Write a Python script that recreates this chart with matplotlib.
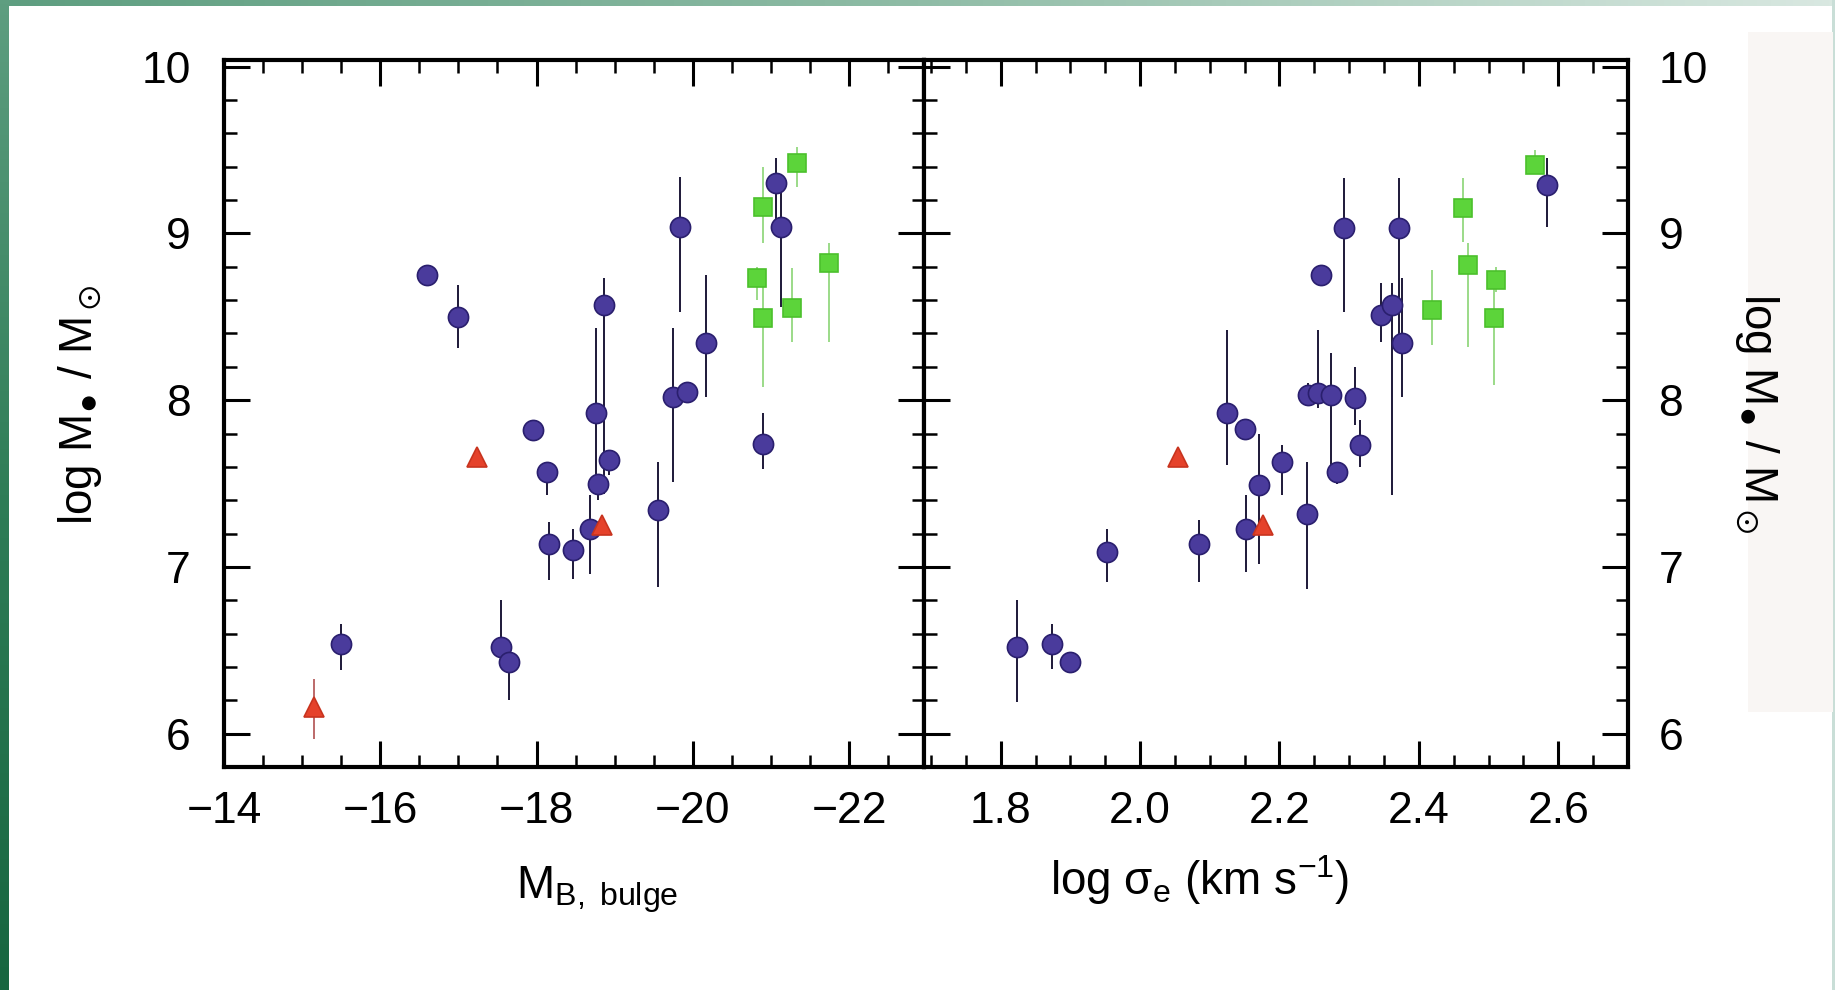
import numpy as np
import matplotlib
matplotlib.use("Agg")
import matplotlib.pyplot as plt
from matplotlib.ticker import MultipleLocator
from matplotlib.colors import LinearSegmentedColormap

plt.rcParams['font.family'] = ['Liberation Sans', 'DejaVu Sans']
plt.rcParams['mathtext.fontset'] = 'custom'
plt.rcParams['mathtext.rm'] = 'Liberation Sans'
plt.rcParams['mathtext.it'] = 'Liberation Sans:italic'
plt.rcParams['mathtext.bf'] = 'Liberation Sans:bold'
plt.rcParams['mathtext.fallback'] = 'stixsans'

# ---------------- data: left panel (bulge absolute magnitude) ----------------
mb_blue = [-16.60, -17.00, -15.50, -17.55, -17.65, -17.95, -18.14, -18.16, -18.47, -18.69,
           -18.76, -18.79, -18.87, -18.93, -19.55, -19.75, -19.92, -19.84, -20.17, -20.90,
           -21.07, -21.13]
mb_blue_m = [8.75, 8.50, 6.54, 6.52, 6.43, 7.82, 7.57, 7.14, 7.10, 7.23,
             7.92, 7.50, 8.57, 7.64, 7.34, 8.02, 8.05, 9.04, 8.34, 7.74,
             9.30, 9.04]
mb_blue_lo = [8.75, 8.31, 6.38, 6.52, 6.20, 7.76, 7.43, 6.92, 6.93, 6.96,
              7.50, 7.40, 7.44, 7.55, 6.88, 7.51, 8.00, 8.53, 8.02, 7.59,
              9.04, 8.56]
mb_blue_hi = [8.75, 8.69, 6.66, 6.80, 6.43, 7.87, 7.61, 7.27, 7.23, 7.43,
              8.43, 7.50, 8.73, 7.70, 7.63, 8.43, 8.10, 9.34, 8.75, 7.92,
              9.45, 9.30]

mb_green = [-20.90, -21.34, -20.82, -20.90, -21.27, -21.74]
mb_green_m = [9.16, 9.42, 8.73, 8.49, 8.55, 8.82]
mb_green_lo = [8.94, 9.28, 8.60, 8.08, 8.35, 8.35]
mb_green_hi = [9.40, 9.52, 8.80, 8.75, 8.79, 8.94]

mb_red = [-15.15, -17.24, -18.84]
mb_red_m = [6.16, 7.66, 7.25]
mb_red_lo = [5.97, 7.66, 7.25]
mb_red_hi = [6.33, 7.66, 7.25]

# ---------------- data: right panel (velocity dispersion) ----------------
sig_blue = [1.824, 1.873, 1.900, 1.952, 2.084, 2.125, 2.151, 2.152, 2.171, 2.203,
            2.240, 2.241, 2.255, 2.274, 2.283, 2.292, 2.259, 2.308, 2.315, 2.345,
            2.361, 2.372, 2.376, 2.584]
sig_blue_m = [6.52, 6.54, 6.43, 7.09, 7.14, 7.92, 7.83, 7.23, 7.49, 7.63,
              7.32, 8.03, 8.04, 8.03, 7.57, 9.03, 8.75, 8.01, 7.73, 8.51,
              8.57, 9.03, 8.34, 9.29]
sig_blue_lo = [6.19, 6.39, 6.43, 6.91, 6.91, 7.61, 7.83, 6.97, 7.02, 7.43,
               6.87, 7.98, 7.95, 7.57, 7.50, 8.53, 8.75, 7.85, 7.60, 8.35,
               7.43, 8.32, 8.02, 9.04]
sig_blue_hi = [6.80, 6.66, 6.43, 7.23, 7.28, 8.42, 7.83, 7.43, 7.80, 7.73,
               7.63, 8.10, 8.42, 8.28, 7.62, 9.33, 8.75, 8.20, 7.88, 8.70,
               8.70, 9.33, 8.73, 9.45]

sig_green = [2.419, 2.463, 2.470, 2.511, 2.508, 2.566]
sig_green_m = [8.54, 9.15, 8.81, 8.72, 8.49, 9.41]
sig_green_lo = [8.33, 8.95, 8.32, 8.65, 8.09, 9.36]
sig_green_hi = [8.78, 9.33, 8.94, 8.80, 8.67, 9.50]

sig_red = [2.055, 2.177]
sig_red_m = [7.66, 7.25]

# ---------------- styling ----------------
BLUE = '#4a3b9c'
BLUE_E = '#2a1f6e'
GREEN = '#5cd43a'
RED = '#e5422b'

W, H = 1835, 990
fig = plt.figure(figsize=(W / 100, H / 100), dpi=100)
fig.patch.set_facecolor('white')

# background decoration (slide frame)
bg = fig.add_axes([0, 0, 1, 1], zorder=-5)
bg.set_xlim(0, W)
bg.set_ylim(H, 0)
bg.axis('off')
top_cmap = LinearSegmentedColormap.from_list('t', ['#5e9e80', '#8fbca6', '#d9e8e1'])
left_cmap = LinearSegmentedColormap.from_list('l', ['#5e9e80', '#2f7d57', '#176640'])
bg.imshow(np.linspace(0, 1, 256)[None, :], cmap=top_cmap, extent=[0, W, 6, 0], aspect='auto')
bg.imshow(np.linspace(0, 1, 256)[:, None], cmap=left_cmap, extent=[0, 8, H, 0], aspect='auto')
bg.add_patch(plt.Rectangle((W - 3, 0), 3, H, color='#c9ded7', lw=0))
bg.add_patch(plt.Rectangle((1748, 32), 85, 680, color='#f9f6f4', lw=0))

ax1 = fig.add_axes([224 / W, 1 - 767 / H, 700 / W, 707 / H])
ax2 = fig.add_axes([924 / W, 1 - 767 / H, 704 / W, 707 / H])


def draw(ax, x, y, lo, hi, color, ecolor, elw, marker, ms, mec):
    x = np.asarray(x); y = np.asarray(y)
    lo = np.asarray(lo); hi = np.asarray(hi)
    ax.errorbar(x, y, yerr=[y - lo, hi - y], fmt='none', ecolor=ecolor,
                elinewidth=elw, capsize=0, zorder=2)
    ax.plot(x, y, linestyle='none', marker=marker, ms=ms, mfc=color,
            mec=mec, mew=1.2, zorder=3)


draw(ax1, mb_blue, mb_blue_m, mb_blue_lo, mb_blue_hi, BLUE, '#1d1838', 1.4, 'o', 14.5, BLUE_E)
draw(ax1, mb_green, mb_green_m, mb_green_lo, mb_green_hi, GREEN, '#93d87f', 1.3, 's', 12.5, '#4cc02c')
draw(ax1, mb_red, mb_red_m, mb_red_lo, mb_red_hi, RED, '#b05050', 1.2, '^', 14, '#c8341f')

draw(ax2, sig_blue, sig_blue_m, sig_blue_lo, sig_blue_hi, BLUE, '#1d1838', 1.4, 'o', 14.5, BLUE_E)
draw(ax2, sig_green, sig_green_m, sig_green_lo, sig_green_hi, GREEN, '#93d87f', 1.3, 's', 12.5, '#4cc02c')
draw(ax2, sig_red, sig_red_m, sig_red_m, sig_red_m, RED, '#b05050', 1.2, '^', 14, '#c8341f')

ax1.set_xlim(-14.0, -22.96)
ax2.set_xlim(1.69, 2.70)
for ax in (ax1, ax2):
    ax.set_ylim(5.80, 10.04)
    ax.yaxis.set_major_locator(MultipleLocator(1))
    ax.yaxis.set_minor_locator(MultipleLocator(0.2))
    for s in ax.spines.values():
        s.set_linewidth(3)
    ax.tick_params(which='both', direction='in', top=True, bottom=True,
                   left=True, right=True, labelsize=32)
    ax.tick_params(which='major', length=19, width=2.2)
    ax.tick_params(which='minor', length=9, width=1.8)

ax1.xaxis.set_major_locator(MultipleLocator(2))
ax1.xaxis.set_minor_locator(MultipleLocator(0.5))
ax2.xaxis.set_major_locator(MultipleLocator(0.2))
ax2.xaxis.set_minor_locator(MultipleLocator(0.05))
ax2.xaxis.set_major_formatter(matplotlib.ticker.FormatStrFormatter('%.1f'))

ax1.tick_params(axis='y', labelleft=True, labelright=False, pad=24)
ax2.tick_params(axis='y', labelleft=False, labelright=True, pad=22)
ax1.tick_params(axis='x', pad=17)
ax2.tick_params(axis='x', pad=17)

ylab = r'log M$_{●}$ / M$_\odot$'
fig.text(80 / W, 1 - 405 / H, ylab, rotation=90, fontsize=33, ha='center', va='center')
fig.text(1757 / W, 1 - 413 / H, ylab, rotation=270, fontsize=33, ha='center', va='center')
fig.text(597 / W, 1 - 890 / H, r'M$_{\rm B,\ bulge}$', fontsize=33, ha='center', va='center')
fig.text(1200 / W, 1 - 880 / H, r'log σ$_{\rm e}$ (km s$^{-1}$)', fontsize=33, ha='center', va='center')

fig.savefig('out.png', dpi=100)
